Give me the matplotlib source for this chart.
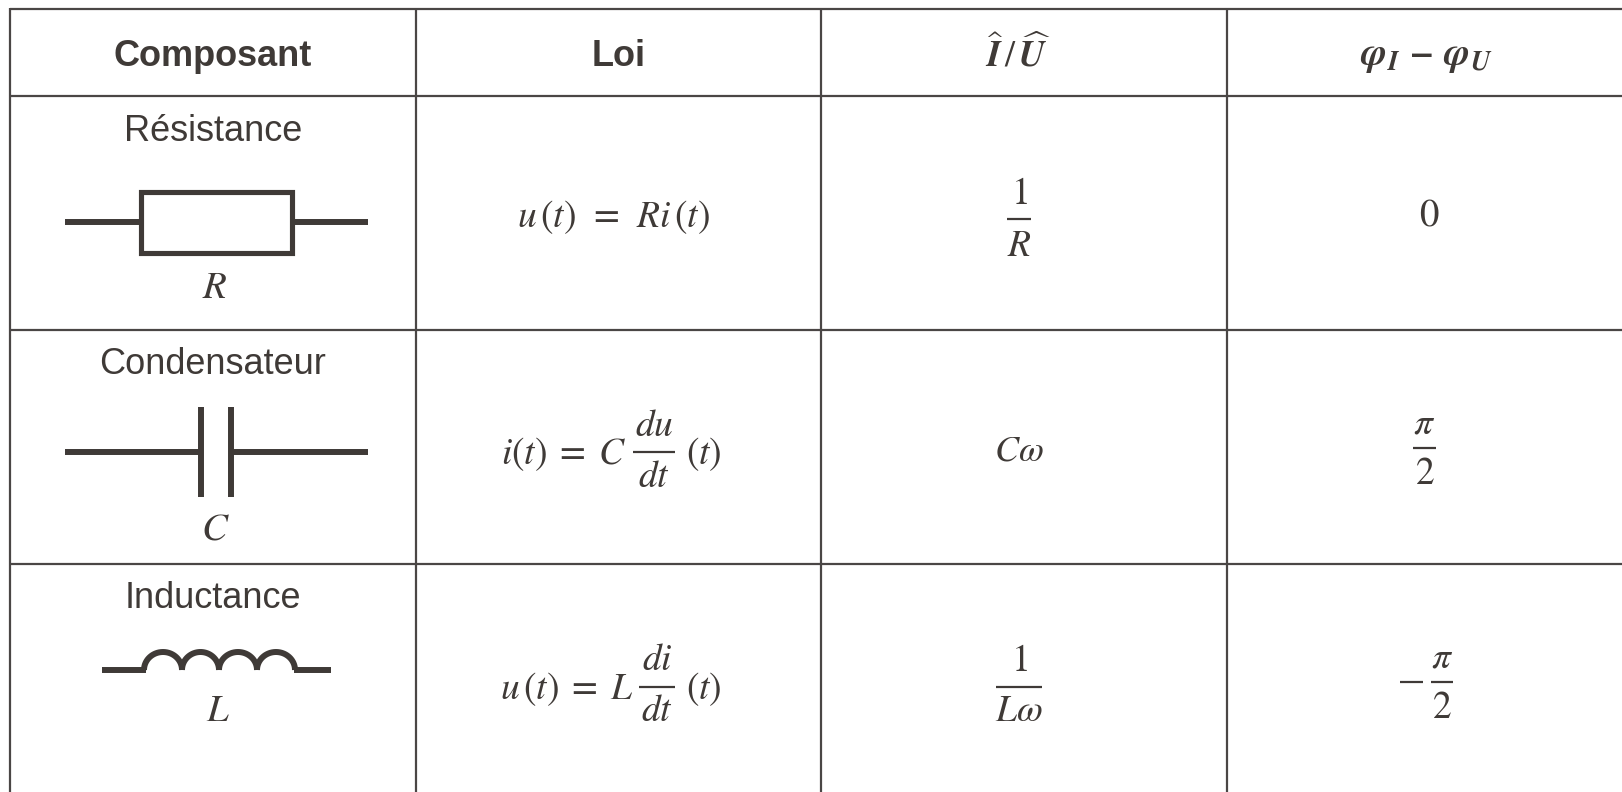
#coding:utf-8
import matplotlib
matplotlib.use('Agg')
import matplotlib.pyplot as plt
import numpy as np

col_edges = [10, 415.7, 821.3, 1226.8]
row_edges = [8.5, 96, 329.7, 563.5]

headers = ['Composant', 'Loi', r'$\widehat{\mathbfit{I}}\,/\,\widehat{\mathbfit{U}}$', r'$\mathbfit{\varphi_I\,-\,\varphi_U}$']
components = ['Résistance', 'Condensateur', 'Inductance']
symbols = ['$R$', '$C$', '$L$']
law_r = r'$u\,(t)\;\,=\;\,Ri\,(t)$'
law_c = [r'$i(t)\;=\;C$', '$du$', '$dt$', '$(t)$']
law_l = [r'$u\,(t)\;=\;L$', '$di$', '$dt$', '$(t)$']
ratio_r = ['$1$', '$R$']
ratio_c = r'$C\omega$'
ratio_l = ['$1$', r'$L\omega$']
phase_r = '$0$'
phase_c = [r'$\pi$', '$2$']
phase_l = [r'$\pi$', '$2$']

ink = '#3f3a37'
line_col = '#4a4645'
math_size = 27

plt.rcParams['font.family'] = ['Liberation Sans', 'DejaVu Sans']
plt.rcParams['mathtext.fontset'] = 'stix'

fig = plt.figure(figsize=(16.22, 7.92), dpi=100)
ax = fig.add_axes([0, 0, 1, 1])
ax.set_xlim(0, 1622)
ax.set_ylim(792, 0)
ax.axis('off')


def put(x, y, s, size=math_size, ha='center', **kw):
    ax.text(x, y, s, ha=ha, va='center', color=ink, fontsize=size, **kw)


def bar(x0, x1, y):
    ax.plot([x0, x1], [y, y], color=ink, lw=1.6, solid_capstyle='butt')


def frac(x0, x1, y, parts, y_top, y_bot):
    bar(x0, x1, y)
    put((x0 + x1) / 2, y_top, parts[0])
    put((x0 + x1) / 2, y_bot, parts[1])


# grid
for x in col_edges:
    ax.plot([x, x], [8, 792], color=line_col, lw=1.6, solid_capstyle='butt')
for y in row_edges:
    ax.plot([10, 1622], [y, y], color=line_col, lw=1.6, solid_capstyle='butt')

# header
put(213, 57, headers[0], size=26, fontweight='bold')
put(619, 57, headers[1], size=26, fontweight='bold')
put(1018, 55, headers[2], size=26)
put(1426, 57, headers[3], size=28)

# first column
name_y = [131.5, 365, 599]
sym_x = [215, 215, 218]
sym_y = [288, 529, 711]
for i in range(3):
    put(213, name_y[i], components[i], size=26)
    put(sym_x[i], sym_y[i], symbols[i], size=28)

# loi
put(613, 217.5, law_r)
put(626, 454, law_c[0], ha='right')
frac(633, 675, 452, law_c[1:3], 426, 477)
put(704, 454, law_c[3])
put(633, 689, law_l[0], ha='right')
frac(639, 675, 686.5, law_l[1:3], 660, 711)
put(704, 689, law_l[3])

# I/U
frac(1007, 1031, 219, ratio_r, 194.5, 246)
put(1019, 451, ratio_c, size=26)
frac(996, 1042, 686.5, ratio_l, 661, 711)

# phase
put(1429, 216, phase_r, size=28)
frac(1413, 1436, 448, phase_c, 423.5, 474)
bar(1400, 1423, 682)
frac(1431, 1453, 682, phase_l, 657, 707.5)

# resistor
sym_lw = 4.3
ax.plot([65, 140], [222, 222], color=ink, lw=sym_lw, solid_capstyle='butt')
ax.plot([292, 368], [222, 222], color=ink, lw=sym_lw, solid_capstyle='butt')
ax.add_patch(plt.Rectangle((140.7, 191.7), 151, 61, fill=False, ec=ink, lw=3.7, joinstyle='miter'))

# capacitor
ax.plot([65, 201], [452, 452], color=ink, lw=sym_lw, solid_capstyle='butt')
ax.plot([231, 368], [452, 452], color=ink, lw=sym_lw, solid_capstyle='butt')
ax.plot([201, 201], [407, 497], color=ink, lw=sym_lw, solid_capstyle='butt')
ax.plot([231, 231], [407, 497], color=ink, lw=sym_lw, solid_capstyle='butt')

# inductor
coil_edges = [144, 182, 219, 257, 295]
ax.plot([102, 146], [669.5, 669.5], color=ink, lw=sym_lw, solid_capstyle='butt')
ax.plot([294, 331], [669.5, 669.5], color=ink, lw=sym_lw, solid_capstyle='butt')
t = np.linspace(np.pi, 0, 40)
for a, b in zip(coil_edges[:-1], coil_edges[1:]):
    ax.plot((a + b) / 2 + (b - a) / 2 * np.cos(t), 670 - 18 * np.sin(t), color=ink, lw=sym_lw, solid_capstyle='butt')

fig.savefig('out.png', dpi=100)
